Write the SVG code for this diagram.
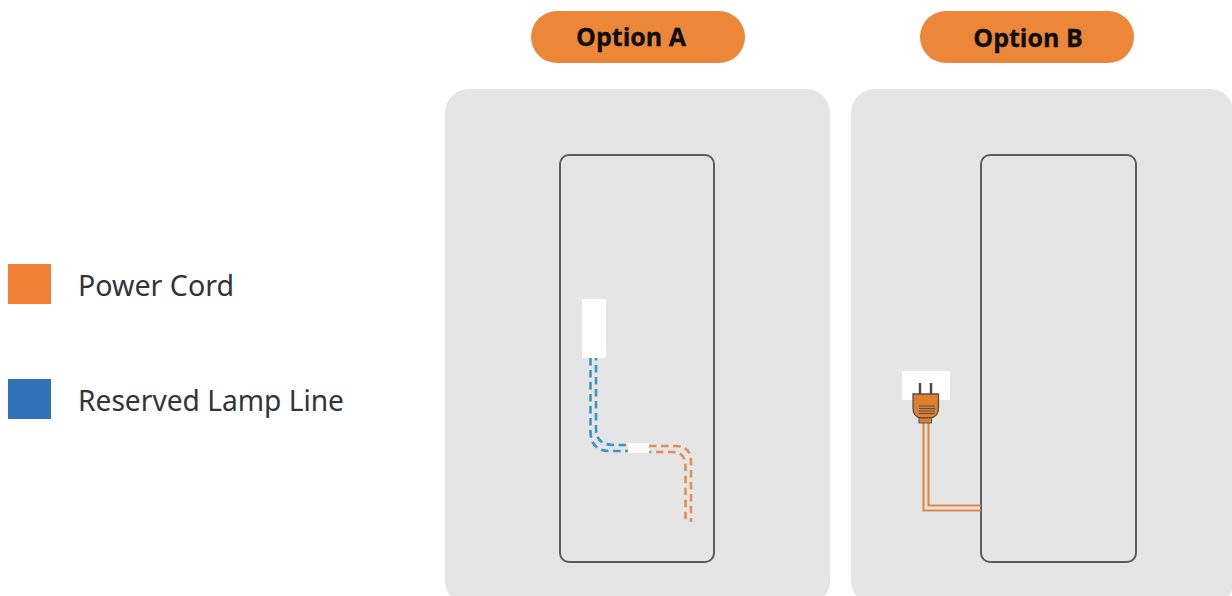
<svg xmlns="http://www.w3.org/2000/svg" width="1232" height="596" viewBox="0 0 1232 596">
<style>
.panel{fill:#e6e5e6}
.door{fill:none;stroke:#5c5c5e;stroke-width:2}
.pill{fill:#ec8739}
.pt{font-family:"Open Sans",Lato,sans-serif;font-weight:700;font-size:25px;fill:#0d0d0d;text-anchor:middle;stroke:#0d0d0d;stroke-width:.3}
.lg{font-family:"Noto Sans","Open Sans",sans-serif;font-size:28.500px;fill:#33333a}
.blue{fill:none;stroke:#3b93c8;stroke-width:2.600;stroke-dasharray:7.500 4.500}
.or{fill:none;stroke:#df9150;stroke-width:2.600;stroke-dasharray:7.500 4.500}
.off{stroke-dashoffset:5}
.cord{fill:none;stroke:#e28a45;stroke-width:2.200}
.w{fill:#fff}
</style>
<rect width="1232" height="596" fill="#fff"/>
<g id="legend-power"><rect x="8" y="264" width="43" height="40" fill="#f08033"/><text class="lg" x="78" y="296" textLength="156" lengthAdjust="spacingAndGlyphs">Power Cord</text></g>
<g id="legend-lamp"><rect x="8" y="379" width="43" height="40" fill="#2f72b6"/><text class="lg" x="78" y="411" textLength="266" lengthAdjust="spacingAndGlyphs">Reserved Lamp Line</text></g>
<g id="option-a-label"><rect class="pill" x="531" y="11" width="214" height="52" rx="26"/><text class="pt" x="631" y="46">Option A</text></g>
<g id="option-b-label"><rect class="pill" x="920" y="11" width="214" height="52" rx="26"/><text class="pt" x="1028" y="47">Option B</text></g>
<g id="option-a-panel"><rect class="panel" x="445" y="89" width="385" height="516" rx="24"/><rect class="door" x="560" y="155" width="154" height="407" rx="9"/><rect class="w" x="582" y="299" width="24" height="59"/><rect class="w" x="628" y="443" width="21" height="10"/></g>
<g id="option-b-panel"><rect class="panel" x="851" y="89" width="383" height="516" rx="24"/><rect class="door" x="981" y="155" width="155" height="407" rx="9"/><rect class="w" x="902" y="371" width="48" height="29"/></g>
<g id="connectors">
<path class="blue" d="M590.500 358V431Q590.500 451 610 451H628"/>
<path class="blue off" d="M596 358V429Q596 445 614 445H628"/>
<path class="or" d="M649 446H676Q691 446 691 462V522"/>
<path class="or off" d="M649 452H672Q685.500 452 685.500 466V522"/>
<path class="cord" d="M923.500 423V510.500H981"/>
<path class="cord" d="M928.500 423V505.500H981"/>
</g>
<g id="plug">
<path d="M920 383V395M931 383V395" stroke="#4a4a4a" stroke-width="2.500" fill="none"/>
<path d="M913 394H938.500V408Q938.500 417 930 418H921Q913 417 913 408Z" fill="#dd7f2f" stroke="#5a5048" stroke-width="1.300"/>
<rect x="919" y="418" width="12.500" height="5" fill="#dd7f2f" stroke="#5a5048"/>
<path d="M919 406H935M919 408.500H935M919 411H935M919 413.500H935" stroke="#5a5048" stroke-width="1"/>
</g>
</svg>
